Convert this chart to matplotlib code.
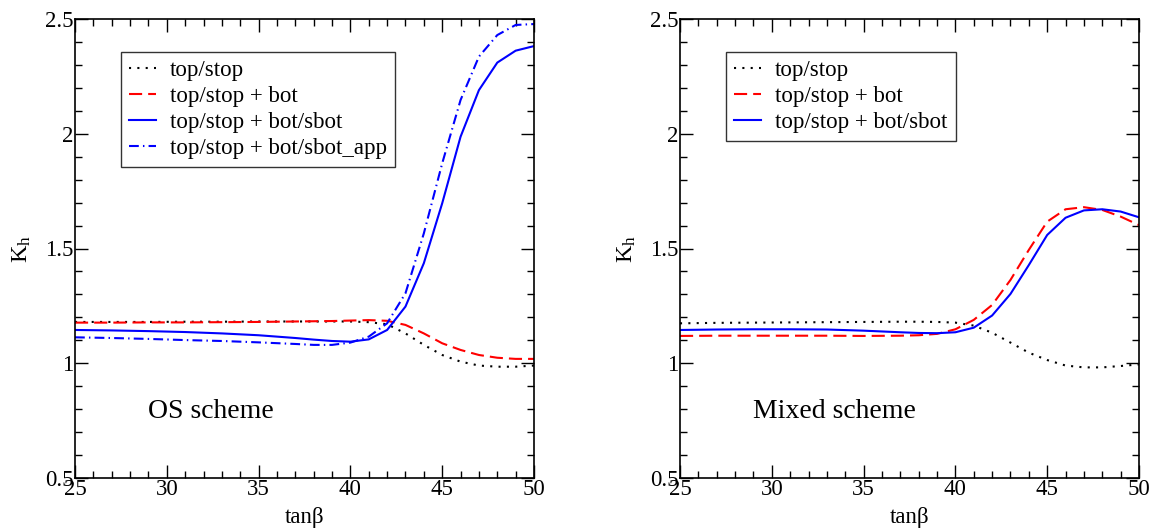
import matplotlib
matplotlib.use("Agg")
import matplotlib.pyplot as plt
from matplotlib.ticker import MultipleLocator, FuncFormatter

plt.rcParams['font.family'] = ['Liberation Serif', 'DejaVu Serif']
plt.rcParams['mathtext.fontset'] = 'custom'
plt.rcParams['mathtext.rm'] = 'Liberation Serif'
plt.rcParams['mathtext.it'] = 'Liberation Serif:italic'

# tan(beta) grid
tanb = [25, 27, 29, 31, 33, 35, 37, 38, 39, 40, 41, 42, 43, 44, 45, 46, 47, 48, 49, 50]

# OS scheme (left panel)
os_top = [1.180, 1.180, 1.180, 1.181, 1.181, 1.182, 1.182, 1.182, 1.182, 1.182,
          1.179, 1.170, 1.130, 1.080, 1.036, 1.007, 0.990, 0.985, 0.985, 0.990]
os_bot = [1.177, 1.177, 1.178, 1.178, 1.179, 1.180, 1.182, 1.183, 1.184, 1.186,
          1.188, 1.185, 1.167, 1.130, 1.087, 1.058, 1.036, 1.024, 1.019, 1.019]
os_sbot = [1.145, 1.143, 1.140, 1.136, 1.130, 1.122, 1.110, 1.103, 1.097, 1.094,
           1.104, 1.145, 1.247, 1.436, 1.697, 1.987, 2.190, 2.310, 2.362, 2.382]
os_sbot_app = [1.113, 1.110, 1.106, 1.101, 1.097, 1.091, 1.084, 1.080, 1.080, 1.090,
               1.116, 1.174, 1.305, 1.566, 1.871, 2.147, 2.336, 2.430, 2.474, 2.478]

# Mixed scheme (right panel)
mx_top = [1.174, 1.176, 1.177, 1.178, 1.179, 1.180, 1.181, 1.181, 1.180, 1.177,
          1.164, 1.133, 1.090, 1.046, 1.014, 0.990, 0.982, 0.982, 0.988, 0.995]
mx_bot = [1.119, 1.120, 1.120, 1.120, 1.120, 1.119, 1.120, 1.122, 1.128, 1.148,
          1.189, 1.254, 1.363, 1.494, 1.617, 1.671, 1.680, 1.668, 1.639, 1.602]
mx_sbot = [1.145, 1.147, 1.148, 1.148, 1.147, 1.142, 1.135, 1.132, 1.131, 1.135,
           1.155, 1.208, 1.302, 1.428, 1.559, 1.634, 1.666, 1.671, 1.661, 1.636]

labels = ["top/stop", "top/stop + bot", "top/stop + bot/sbot", "top/stop + bot/sbot_app"]

fs = 16.5
lw = 1.5
dotted = (0, (1, 3))
dashed = (0, (6.3, 2.9))
dashdot = (0, (4.7, 2, 0.7, 2))


def setup(ax):
    ax.set_xlim(25, 50)
    ax.set_ylim(0.5, 2.5)
    ax.xaxis.set_major_locator(MultipleLocator(5))
    ax.xaxis.set_minor_locator(MultipleLocator(1))
    ax.yaxis.set_major_locator(MultipleLocator(0.5))
    ax.yaxis.set_minor_locator(MultipleLocator(0.1))
    ax.yaxis.set_major_formatter(FuncFormatter(lambda v, p: "%g" % v))
    ax.tick_params(which='both', direction='in', top=True, right=True,
                   labelsize=fs, width=1, pad=1)
    ax.tick_params(which='major', length=9.4)
    ax.tick_params(which='minor', length=5)
    for s in ax.spines.values():
        s.set_linewidth(1.2)
    ax.set_xlabel("tanβ", fontsize=fs, labelpad=5)
    ax.set_ylabel(r"$\mathrm{K}_\mathrm{h}$", fontsize=fs + 1, labelpad=9)


fig = plt.figure(figsize=(11.52, 5.28), dpi=100)
ax1 = fig.add_axes([75 / 1152, 50 / 528, 459 / 1152, 459 / 528])
ax2 = fig.add_axes([680 / 1152, 50 / 528, 459 / 1152, 459 / 528])

ax1.plot(tanb, os_top, color='black', lw=lw, linestyle=dotted, label=labels[0])
ax1.plot(tanb, os_bot, color='red', lw=lw, linestyle=dashed, label=labels[1])
ax1.plot(tanb, os_sbot, color='blue', lw=lw, label=labels[2])
ax1.plot(tanb, os_sbot_app, color='blue', lw=lw, linestyle=dashdot, label=labels[3])

ax2.plot(tanb, mx_top, color='black', lw=lw, linestyle=dotted, label=labels[0])
ax2.plot(tanb, mx_bot, color='red', lw=lw, linestyle=dashed, label=labels[1])
ax2.plot(tanb, mx_sbot, color='blue', lw=lw, label=labels[2])

for ax, name in [(ax1, "OS scheme"), (ax2, "Mixed scheme")]:
    setup(ax)
    ax.text(29.0, 0.79, name, fontsize=20, va='center', ha='left')
    leg = ax.legend(loc='upper left', bbox_to_anchor=(0.1, 0.928), fontsize=fs,
                    frameon=True, fancybox=False, edgecolor='black',
                    handlelength=1.2, handletextpad=0.6, labelspacing=0.22,
                    borderpad=0.35, borderaxespad=0)
    leg.get_frame().set_linewidth(1.0)

fig.savefig("out.png", dpi=100)
